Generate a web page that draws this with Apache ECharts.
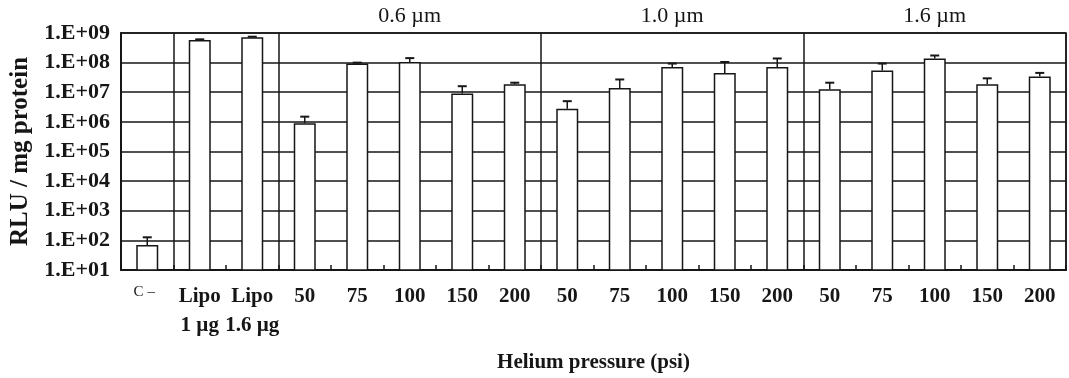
<!DOCTYPE html>
<html>
<head>
<meta charset="utf-8">
<script src="https://cdn.jsdelivr.net/npm/echarts@6/dist/echarts.min.js"></script>
<style>
  html, body { margin: 0; padding: 0; background: #fff; }
  #chart { width: 1069px; height: 378px; }
</style>
</head>
<body>
<div id="chart"></div>
<script>
// categories along the bottom (C-, lipofection, then 3 particle sizes x 5 pressures)
const categories = ['C –', 'Lipo\n1 µg', 'Lipo\n1.6 µg',
  '50', '75', '100', '150', '200',
  '50', '75', '100', '150', '200',
  '50', '75', '100', '150', '200'];
// mean RLU / mg protein
const barValues = [70, 5.8e8, 7.2e8,
  9.0e5, 9.3e7, 1.05e8, 9.1e6, 1.86e7,
  2.8e6, 1.4e7, 7.1e7, 4.5e7, 7.1e7,
  1.26e7, 5.4e7, 1.38e8, 1.86e7, 3.37e7];
// top of the error bars (mean + sd)
const errorTops = [127, 6.1e8, 7.5e8,
  1.5e6, 1.0e8, 1.42e8, 1.6e7, 2.1e7,
  5.0e6, 2.7e7, 9.3e7, 1.05e8, 1.38e8,
  2.1e7, 9.3e7, 1.74e8, 2.95e7, 4.5e7];
// particle size headers, shown over the middle bar of each group
const groupLabels = { 5: '0.6 µm', 10: '1.0 µm', 15: '1.6 µm' };
// group separators (left edge of these categories)
const separatorAt = [1, 3, 8, 13];
const yTickLabels = ['1.E+01', '1.E+02', '1.E+03', '1.E+04', '1.E+05', '1.E+06', '1.E+07', '1.E+08', '1.E+09'];

const serif = '"Liberation Serif", "DejaVu Serif", serif';
const ink = '#161616';

const chart = echarts.init(document.getElementById('chart'));

const errData = barValues.map((v, i) => [i, errorTops[i], v]);

chart.setOption({
  animation: false,
  backgroundColor: '#fff',
  grid: {
    left: 118, right: 3, top: 33, bottom: 106,
    show: true, borderColor: ink, borderWidth: 1.5
  },
  xAxis: [
    {
      type: 'category',
      data: categories,
      position: 'bottom',
      name: 'Helium pressure (psi)',
      nameLocation: 'middle',
      nameGap: 82,
      nameTextStyle: { fontFamily: serif, fontWeight: 'bold', fontSize: 21, color: ink },
      axisLine: { lineStyle: { color: ink, width: 2 } },
      axisTick: { show: true, inside: true, length: 5, interval: 0, lineStyle: { color: ink, width: 1.5 } },
      axisLabel: {
        interval: 0,
        margin: 12,
        fontFamily: serif,
        fontWeight: 'bold',
        fontSize: 21,
        lineHeight: 29,
        color: ink,
        formatter: function (v) {
          return v === 'C –' ? '{c|C –}' : v;
        },
        rich: {
          c: { fontFamily: serif, fontWeight: 'normal', fontSize: 15, color: ink, padding: [0, 6, 8, 0] }
        }
      },
      splitLine: {
        show: true,
        interval: function (idx) { return separatorAt.indexOf(idx) >= 0; },
        lineStyle: { color: ink, width: 1.5 }
      }
    },
    {
      type: 'category',
      data: categories,
      position: 'top',
      axisLine: { show: false },
      axisTick: { show: false },
      axisLabel: {
        interval: function (idx) { return groupLabels[idx] !== undefined; },
        margin: 6,
        fontFamily: serif,
        fontSize: 22,
        color: ink,
        formatter: function (v, idx) { return groupLabels[idx] || ''; }
      },
      splitLine: { show: false }
    }
  ],
  yAxis: {
    type: 'log',
    logBase: 10,
    min: 10,
    max: 1e9,
    name: 'RLU / mg protein',
    nameLocation: 'middle',
    nameGap: 88,
    nameTextStyle: { fontFamily: serif, fontWeight: 'bold', fontSize: 25, color: ink },
    axisLine: { show: true, lineStyle: { color: ink, width: 2 } },
    axisTick: { show: false },
    axisLabel: {
      margin: 11,
      fontFamily: serif,
      fontWeight: 'bold',
      fontSize: 22,
      color: ink,
      formatter: function (v) {
        const e = Math.round(Math.log10(v));
        return yTickLabels[e - 1] || '';
      }
    },
    splitLine: { show: true, lineStyle: { color: ink, width: 1.5 } }
  },
  series: [
    {
      type: 'bar',
      xAxisIndex: 0,
      data: barValues,
      barWidth: 22,
      itemStyle: { color: '#fff', borderColor: ink, borderWidth: 1.5 },
      z: 2
    },
    {
      type: 'custom',
      xAxisIndex: 0,
      data: errData,
      z: 3,
      renderItem: function (params, api) {
        const base = api.coord([api.value(0), api.value(2)]);
        const top = api.coord([api.value(0), api.value(1)]);
        return {
          type: 'group',
          children: [
            { type: 'line', shape: { x1: base[0], y1: base[1], x2: top[0], y2: top[1] }, style: { stroke: ink, lineWidth: 1.5 } },
            { type: 'line', shape: { x1: top[0] - 4.5, y1: top[1], x2: top[0] + 4.5, y2: top[1] }, style: { stroke: ink, lineWidth: 2 } }
          ]
        };
      }
    }
  ]
});
</script>
</body>
</html>
